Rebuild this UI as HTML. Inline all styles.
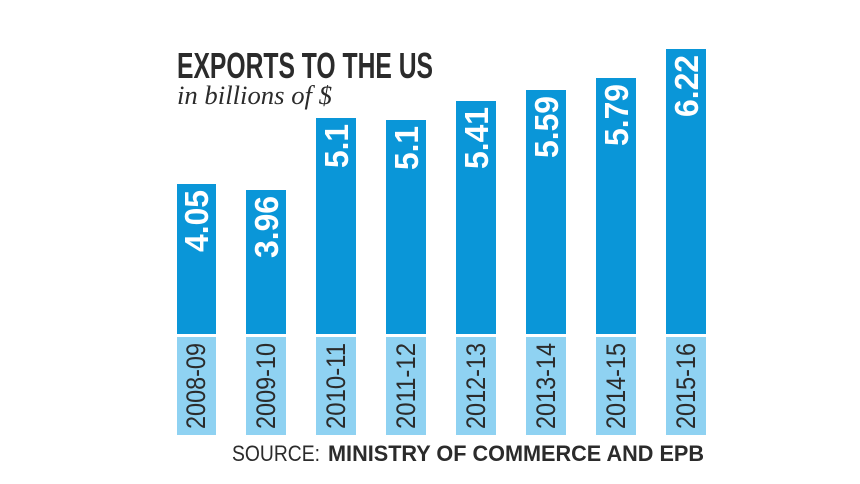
<!DOCTYPE html>
<html><head><meta charset="utf-8"><style>
html,body{margin:0;padding:0;background:#fff;}
svg{display:block}
</style></head><body>
<svg width="860" height="484" viewBox="0 0 860 484" xmlns="http://www.w3.org/2000/svg">
<g font-family="'Liberation Sans Narrow','Liberation Sans',sans-serif">
<text x="177" y="78" font-size="36" font-weight="bold" fill="#2b2b2b" textLength="256" lengthAdjust="spacingAndGlyphs">EXPORTS TO THE US</text>
<text x="177" y="104" font-family="'Liberation Serif',serif" font-style="italic" font-size="26" fill="#2b2b2b" textLength="155" lengthAdjust="spacingAndGlyphs">in billions of $</text>
</g>
<g fill="#0a96d8">
<rect x="177" y="184" width="39" height="150"/>
<rect x="246" y="190" width="40" height="144"/>
<rect x="316" y="118" width="40" height="216"/>
<rect x="386" y="120" width="40" height="214"/>
<rect x="456" y="101" width="40" height="233"/>
<rect x="526" y="90" width="40" height="244"/>
<rect x="596" y="78" width="40" height="256"/>
<rect x="666" y="49" width="40" height="285"/>
</g>
<g fill="#8fd2f2">
<rect x="177" y="337" width="39" height="98"/>
<rect x="246" y="337" width="40" height="98"/>
<rect x="316" y="337" width="40" height="98"/>
<rect x="386" y="337" width="40" height="98"/>
<rect x="456" y="337" width="40" height="98"/>
<rect x="526" y="337" width="40" height="98"/>
<rect x="596" y="337" width="40" height="98"/>
<rect x="666" y="337" width="40" height="98"/>
</g>
<g font-family="'Liberation Sans Narrow','Liberation Sans',sans-serif" font-weight="bold" font-size="33" fill="#fff" text-anchor="end">
<text transform="translate(208,190) rotate(-90)" textLength="62" lengthAdjust="spacingAndGlyphs">4.05</text>
<text transform="translate(278,196) rotate(-90)" textLength="62" lengthAdjust="spacingAndGlyphs">3.96</text>
<text transform="translate(348,124) rotate(-90)" textLength="44" lengthAdjust="spacingAndGlyphs">5.1</text>
<text transform="translate(418,126) rotate(-90)" textLength="44" lengthAdjust="spacingAndGlyphs">5.1</text>
<text transform="translate(488,107) rotate(-90)" textLength="62" lengthAdjust="spacingAndGlyphs">5.41</text>
<text transform="translate(558,96) rotate(-90)" textLength="62" lengthAdjust="spacingAndGlyphs">5.59</text>
<text transform="translate(628,84) rotate(-90)" textLength="62" lengthAdjust="spacingAndGlyphs">5.79</text>
<text transform="translate(698,55) rotate(-90)" textLength="62" lengthAdjust="spacingAndGlyphs">6.22</text>
</g>
<g font-family="'Liberation Sans Narrow','Liberation Sans',sans-serif" font-size="27" fill="#2b2b2b" text-anchor="middle">
<text transform="translate(205,386) rotate(-90)" textLength="86" lengthAdjust="spacingAndGlyphs">2008-09</text>
<text transform="translate(275,386) rotate(-90)" textLength="86" lengthAdjust="spacingAndGlyphs">2009-10</text>
<text transform="translate(345,386) rotate(-90)" textLength="86" lengthAdjust="spacingAndGlyphs">2010-11</text>
<text transform="translate(415,386) rotate(-90)" textLength="86" lengthAdjust="spacingAndGlyphs">2011-12</text>
<text transform="translate(485,386) rotate(-90)" textLength="86" lengthAdjust="spacingAndGlyphs">2012-13</text>
<text transform="translate(555,386) rotate(-90)" textLength="86" lengthAdjust="spacingAndGlyphs">2013-14</text>
<text transform="translate(625,386) rotate(-90)" textLength="86" lengthAdjust="spacingAndGlyphs">2014-15</text>
<text transform="translate(695,386) rotate(-90)" textLength="86" lengthAdjust="spacingAndGlyphs">2015-16</text>
</g>
<g font-family="'Liberation Sans Narrow','Liberation Sans',sans-serif" font-size="22" fill="#2b2b2b">
<text x="232" y="461" textLength="88" lengthAdjust="spacingAndGlyphs">SOURCE:</text>
<text x="328" y="461" font-weight="bold" textLength="376" lengthAdjust="spacingAndGlyphs">MINISTRY OF COMMERCE AND EPB</text>
</g>
</svg>
</body></html>
